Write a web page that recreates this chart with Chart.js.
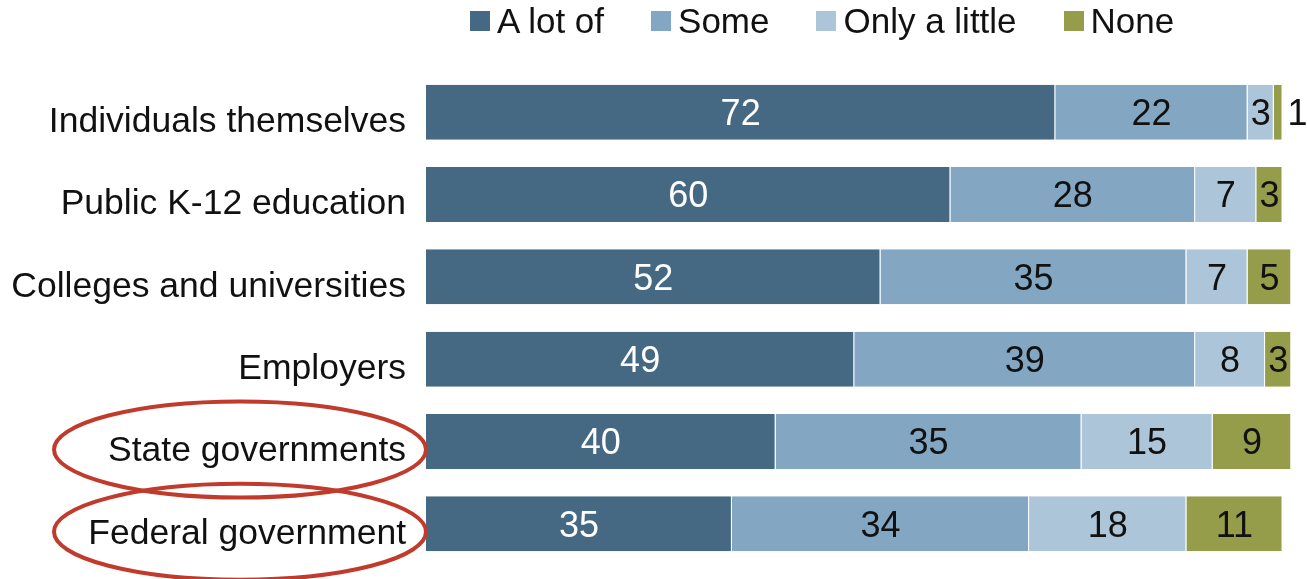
<!DOCTYPE html>
<html>
<head>
<meta charset="utf-8">
<script src="https://cdn.jsdelivr.net/npm/chart.js@4.4.1/dist/chart.umd.min.js"></script>
<style>
  html, body { margin: 0; padding: 0; background: #fff; }
  #wrap { position: relative; width: 1307px; height: 579px; }
  #legend {
    position: absolute; top: 1px; left: 470px;
    display: flex; align-items: center;
    font-family: "Liberation Sans", Arial, sans-serif; font-size: 35px; color: #111;
  }
  #legend .item { display: flex; align-items: center; margin-right: 47px; }
  #legend .box { width: 20px; height: 20px; margin-right: 7px; }
</style>
</head>
<body>
<div id="wrap">
  <canvas id="chart" width="1307" height="579"></canvas>
  <div id="legend"></div>
</div>
<script>
const categories = ['Individuals themselves', 'Public K-12 education', 'Colleges and universities', 'Employers', 'State governments', 'Federal government'];
const seriesNames = ['A lot of', 'Some', 'Only a little', 'None'];
const aLotOf = [72, 60, 52, 49, 40, 35];
const some = [22, 28, 35, 39, 35, 34];
const onlyALittle = [3, 7, 7, 8, 15, 18];
const none = [1, 3, 5, 3, 9, 11];
const colors = ['#466983', '#83a7c2', '#adc5d8', '#969d4a'];
const labelColors = ['#ffffff', '#111111', '#111111', '#111111'];
const circled = ['State governments', 'Federal government'];

const FONT = '"Liberation Sans", Arial, sans-serif';

// legend as html, built from the series arrays
const legendEl = document.getElementById('legend');
seriesNames.forEach((name, i) => {
    const item = document.createElement('div');
    item.className = 'item';
    if (i === seriesNames.length - 1) item.style.marginRight = '0';
    item.innerHTML = '<div class="box" style="background:' + colors[i] + '"></div><span>' + name + '</span>';
    legendEl.appendChild(item);
});

// value labels inside each segment (tiny ones go outside to the right)
const valueLabels = {
    id: 'valueLabels',
    afterDatasetsDraw(chart) {
        const ctx = chart.ctx;
        ctx.save();
        ctx.font = '36px ' + FONT;
        ctx.textBaseline = 'middle';
        chart.data.datasets.forEach((ds, di) => {
            const meta = chart.getDatasetMeta(di);
            meta.data.forEach((bar, i) => {
                const v = ds.data[i];
                if (v < 2) {
                    ctx.fillStyle = '#111';
                    ctx.textAlign = 'left';
                    ctx.fillText(v, bar.x + 5, bar.y + 3);
                } else {
                    ctx.fillStyle = labelColors[di];
                    ctx.textAlign = 'center';
                    ctx.fillText(v, (bar.x + bar.base) / 2, bar.y + 3);
                }
            });
        });
        ctx.restore();
    }
};

// red ellipses round two of the category labels
const ellipses = {
    id: 'ellipses',
    afterDraw(chart) {
        const ctx = chart.ctx;
        const y = chart.scales.y;
        ctx.save();
        ctx.strokeStyle = '#c03b2b';
        ctx.lineWidth = 4;
        circled.forEach(name => {
            const cy = y.getPixelForValue(categories.indexOf(name)) + 8;
            ctx.beginPath();
            ctx.ellipse(240, cy, 186, 48, 0, 0, Math.PI * 2);
            ctx.stroke();
        });
        ctx.restore();
    }
};

new Chart(document.getElementById('chart'), {
    type: 'bar',
    data: {
        labels: categories,
        datasets: [aLotOf, some, onlyALittle, none].map((d, i) => ({
            label: seriesNames[i],
            data: d,
            backgroundColor: colors[i],
            borderColor: 'rgba(255,255,255,0.9)',
            borderWidth: { right: 1 },
            borderSkipped: false,
            categoryPercentage: 1,
            barPercentage: 0.668
        }))
    },
    options: {
        indexAxis: 'y',
        responsive: false,
        animation: false,
        layout: { padding: { top: 71, right: 7, bottom: 14, left: 0 } },
        plugins: {
            legend: { display: false },
            tooltip: { enabled: false }
        },
        scales: {
            x: { stacked: true, min: 0, max: 100, display: false },
            y: {
                stacked: true,
                grid: { display: false, drawTicks: false },
                border: { display: false },
                ticks: {
                    color: '#111',
                    font: { family: FONT, size: 35.5 },
                    padding: 20,
                    labelOffset: 10
                },
                afterFit(scale) {
                    scale.width = 426;
                    scale.paddingTop = 0;
                    scale.paddingBottom = 0;
                }
            }
        }
    },
    plugins: [valueLabels, ellipses]
});
</script>
</body>
</html>
